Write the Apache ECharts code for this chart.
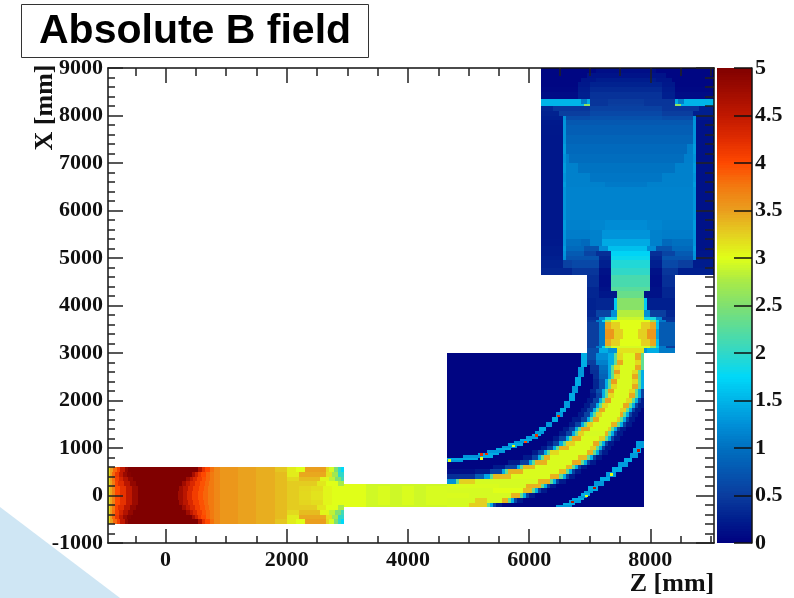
<!DOCTYPE html>
<html><head><meta charset="utf-8">
<style>html,body{margin:0;padding:0;background:#fff}#c{width:794px;height:598px}</style>
<script src="https://cdn.jsdelivr.net/npm/echarts@6/dist/echarts.min.js"></script></head>
<body><div id="c"></div>
<script>
// Each row: [yFrom, yTo, z, B, z, B, ..., z] in mm / tesla. Later rows paint over earlier ones.
const upperRows = [
[8900,9000,6200,.05,7100,.12,8100,.05,9050],
[8800,8900,6200,.05,6950,.16,8250,.05,9050],
[8700,8800,6200,.05,6850,.18,7100,.23,8100,.18,8350,.05,9050],
[8600,8700,6200,.05,6800,.2,7000,.28,8200,.2,8400,.05,9050],
[8500,8600,6200,.07,6800,.23,7000,.35,8200,.23,8400,.07,9050],
[8350,8500,6200,.1,6800,.26,7000,.42,8200,.26,8400,.1,9050],
[8250,8350,6200,1.5,6850,1.1,6950,1.45,7000,.44,7300,.49,7900,.44,8400,1.45,8450,1.1,8550,1.5,9050],
[8200,8250,6200,1.5,6900,2.6,7000,.44,7300,.52,7900,.44,8400,2.6,8500,1.5,9050],
[8100,8200,6200,.32,6400,.45,7000,.55,8200,.45,8800,.26,9050],
[8000,8100,6200,.28,6500,.52,7000,.62,8200,.52,8700,.26,9050],
[7900,8000,6200,.26,6550,1.25,6600,.65,7000,.7,8200,.65,8700,1.25,8750,.19,9050],
[7800,7900,6200,.21,6550,1.28,6600,.77,8700,1.28,8750,.15,9050],
[7600,7800,6200,.2,6550,1.28,6600,.83,8700,1.28,8750,.15,9050],
[7400,7600,6200,.19,6550,1.28,6600,.88,8700,1.28,8750,.15,9050],
[7200,7400,6200,.19,6550,1.33,6600,.93,8600,1.1,8700,1.33,8750,.15,9050],
[7000,7200,6200,.19,6550,1.28,6600,1.12,6650,.97,8550,1.12,8700,1.28,8750,.15,9050],
[6800,7000,6200,.19,6550,1.33,6600,1.13,6800,1.02,8400,1.13,8700,1.33,8750,.15,9050],
[6600,6800,6200,.19,6550,1.28,6600,1.13,7000,1.05,8200,1.13,8700,1.28,8750,.15,9050],
[6500,6600,6200,.19,6550,1.33,6600,1.13,7250,1.08,7950,1.13,8700,1.33,8750,.15,9050],
[5800,6500,6200,.19,6550,1.28,6600,1.15,8700,1.28,8750,.15,9050],
[5600,5800,6200,.19,6550,1.33,6600,1.13,7000,1.17,7250,1.22,7950,1.17,8200,1.13,8700,1.33,8750,.15,9050],
[5400,5600,6200,.2,6550,1.28,6600,1.1,7000,1.13,7200,1.28,8000,1.13,8200,1.1,8700,1.28,8750,.16,9050],
[5250,5400,6200,.21,6550,1.28,6600,1.0,6850,.93,7000,1.13,7200,1.43,8000,1.13,8200,.93,8350,1.0,8700,1.28,8750,.16,9050],
[5150,5250,6200,.23,6550,1.33,6600,.93,6900,.72,7150,1.22,7300,1.58,7950,1.22,8100,.72,8350,.93,8700,1.33,8750,.16,9050],
[5050,5150,6200,.23,6550,1.28,6600,.8,6900,.58,7100,.39,7350,1.72,8000,.39,8200,.58,8400,.8,8700,1.28,8750,.18,9050],
[4950,5050,6200,.26,6550,1.25,6600,.72,7150,.32,7350,1.8,8000,.32,8200,.72,8700,1.25,8750,.19,9050],
[4800,4950,6200,.28,6550,.55,6700,.62,7150,.26,7350,1.92,8000,.26,8200,.62,8450,.52,8700,.23,9050],
[4650,4800,6200,.32,6700,.45,7150,.15,7350,2.0,8000,.15,8200,.45,8450,.26,9050]
];
const towerRows = [
[4400,4650,6950,.39,7150,.12,7350,2.15,8000,.12,8200,.39,8400],
[4300,4400,6950,.32,7150,.15,7350,2.25,8000,.15,8200,.32,8400],
[4150,4300,6950,.32,7150,.19,7450,2.35,7900,.15,8200,.32,8400],
[3900,4150,6950,.28,7100,.32,7400,1.65,7450,2.55,7900,1.65,7950,.26,8400],
[3750,3900,6950,.32,7100,.58,7350,1.25,7450,2.8,7900,1.25,8000,.52,8250,.32,8400],
[3700,3750,6950,.39,7150,1.17,7250,1.88,7450,2.9,7900,1.88,8100,1.17,8200,.39,8400],
[3650,3700,6950,.45,7100,1.08,7200,1.72,7250,2.6,7350,3.0,8000,2.6,8100,1.72,8150,1.08,8250,.45,8400],
[3500,3650,6950,.52,7150,1.08,7250,3.45,7350,3.25,7500,3.0,7850,3.25,8000,3.45,8100,1.58,8150,.8,8400],
[3300,3500,6950,.52,7150,1.08,7250,3.55,7400,3.25,7550,3.0,7800,3.25,7950,3.55,8100,1.38,8150,.8,8400],
[3150,3300,6950,.52,7150,1.08,7250,3.45,7350,3.25,7500,3.0,7850,3.25,8000,3.45,8100,1.58,8150,.8,8400],
[3100,3150,6950,.52,7100,1.08,7200,1.72,7250,2.6,7350,2.95,8000,2.6,8100,1.72,8150,1.08,8250,.52,8400],
[3000,3100,6950,.65,7150,1.45,7300,1.25,7450,3.15,7900,1.25,7950,1.45,8150,1.08,8400]
];
const lowerBoxRows = [
[-250,3000,4650,.04,7900]
];
const pipeRows = [ // upper half of the wide pipe, y >= 0; the lower half mirrors it
[0,100,-950,3.2,-920,3.45,-880,3.7,-840,4.0,-750,4.2,-650,4.5,-550,4.8,-450,5,210,4.75,280,4.55,350,4.3,430,4.1,530,3.95,620,3.85,700,3.75,800,3.65,900,3.55,1200,3.48,1500,3.42,1800,3.35,2000,3.27,2200,3.2,2400,3.15,2600,3.05,2750,3.0,2950],
[100,200,-950,3.2,-920,3.45,-880,3.7,-840,4.0,-760,4.2,-660,4.5,-560,4.8,-460,5,225,4.75,295,4.55,365,4.3,445,4.1,545,3.95,630,3.85,700,3.75,800,3.65,900,3.55,1200,3.48,1500,3.42,1800,3.35,2000,3.27,2200,3.22,2400,3.18,2600,3.05,2750,3.0,2950],
[200,300,-950,3.2,-920,3.47,-880,3.75,-840,4.05,-780,4.25,-690,4.55,-590,4.85,-490,5,270,4.75,340,4.5,410,4.3,480,4.1,570,3.95,650,3.85,720,3.75,800,3.65,900,3.55,1200,3.48,1500,3.42,1800,3.35,2000,3.27,2200,3.27,2500,3.12,2650,3.0,2850,2.75,2950],
[300,400,-950,3.2,-920,3.5,-880,3.8,-840,4.1,-770,4.35,-700,4.6,-620,4.85,-530,5,340,4.75,400,4.5,460,4.3,520,4.1,600,3.95,670,3.85,730,3.75,800,3.65,900,3.55,1200,3.48,1500,3.42,1800,3.35,2000,3.2,2200,3.35,2550,3.05,2700,2.85,2800,2.5,2900,2.1,2950],
[400,500,-950,3.2,-920,3.5,-880,3.85,-830,4.15,-770,4.5,-700,4.8,-630,4.95,-570,5,430,4.7,490,4.4,530,4.15,590,4.0,670,3.85,730,3.75,800,3.65,900,3.55,1200,3.48,1500,3.42,1800,3.35,2000,3.1,2200,3.45,2650,3.15,2750,2.7,2850,2.0,2950],
[500,600,-950,3.2,-920,3.5,-860,3.85,-807,4.1,-752,4.5,-670,4.85,-615,5,530,4.6,595,4.2,650,4.0,733,3.8,800,3.65,900,3.55,1200,3.48,1500,3.42,1800,3.3,2000,3.1,2150,3.0,2300,3.5,2650,3.2,2700,2.95,2780,2.5,2850,2.0,2900,1.75,2950]
];
const narrowPipeRows = [
[-250,-200,2950,3.0,3300,2.92,4650],
[-200,200,2950,3.0,3300,2.93,3500,2.97,3700,2.92,3900,2.97,4100,2.92,4300,2.96,4650],
[200,250,2950,3.0,3300,2.92,4650]
];
const beamRows = [
[-250,-150,4650,2.95,5000,3.25,5300,2.3,5350,1.4,5400,.55,5450,.22,5550],
[-150,-50,4650,2.95,5100,3.25,5300,2.95,5550,3.4,5650,2.3,5700,1.45,5750,.55,5800,.22,5900],
[-50,50,4650,2.97,5000,2.95,5700,3.4,5850,2.3,5900,1.45,5950,.55,6000,.22,6100],
[50,150,4650,2.95,5400,3.0,5900,3.35,6050,2.3,6100,1.45,6150,.55,6200,.22,6300],
[150,250,4650,2.97,5500,2.95,5950,3.4,6200,2.3,6250,1.45,6300,.55,6350,.22,6450],
[250,350,4650,1.25,4800,2.3,4850,3.25,5100,2.95,6150,3.4,6350,2.3,6400,1.45,6450,.55,6500,.22,6600],
[350,450,4650,.39,5100,.8,5250,1.4,5350,2.3,5400,3.35,5700,2.97,6350,3.4,6500,2.3,6550,1.45,6600,.55,6650,.22,6750],
[450,550,4650,.12,5100,.22,5350,.55,5550,1.45,5600,2.3,5650,3.4,5900,2.97,6500,3.35,6600,2.3,6650,1.45,6700,.55,6750,.22,6850],
[550,650,5400,.22,5600,.55,5800,1.45,5850,2.3,5900,3.35,6100,2.97,6600,3.35,6700,2.3,6750,1.45,6800,.55,6850,.22,6950],
[650,750,5650,.22,5850,.55,6000,1.45,6050,2.3,6100,3.4,6300,2.97,6700,3.45,6850,2.3,6900,1.45,6950,.55,7000,.22,7100],
[750,850,5900,.22,6050,.55,6150,1.45,6200,2.3,6250,3.4,6350,2.97,6800,3.35,6950,2.3,7000,1.45,7050,.55,7100,.22,7200],
[850,950,6050,.22,6150,.55,6250,1.45,6300,2.3,6350,3.2,6500,2.97,6950,3.4,7050,2.3,7100,1.45,7150,.55,7200,.22,7300],
[950,1050,6200,.22,6300,.55,6400,1.45,6450,2.3,6500,3.4,6650,2.97,7000,3.25,7100,2.3,7150,1.45,7200,.55,7250,.22,7350],
[1050,1150,6300,.22,6400,.55,6500,1.45,6550,2.3,6600,3.25,6750,2.97,7050,3.45,7150,2.3,7200,1.45,7250,.55,7300,.22,7400],
[1150,1250,6400,.22,6500,.55,6600,1.45,6650,2.3,6700,3.45,6850,2.97,7150,3.25,7250,2.3,7300,1.45,7350,.55,7400,.22,7500],
[1250,1350,6500,.22,6600,.55,6700,1.45,6750,2.3,6800,3.25,6900,2.95,7250,3.4,7300,2.3,7350,1.45,7400,.55,7450,.22,7550],
[1350,1450,6550,.22,6650,.55,6750,1.45,6800,2.3,6850,3.45,7000,2.97,7300,3.25,7350,2.3,7400,1.45,7450,.55,7500,.22,7600],
[1450,1550,6650,.22,6750,.55,6850,1.45,6900,2.3,6950,3.25,7050,2.97,7350,3.4,7450,2.3,7500,1.45,7550,.55,7600,.22,7700],
[1550,1650,6700,.22,6850,.55,6950,1.45,7000,2.3,7050,3.45,7150,2.97,7450,3.25,7500,2.3,7550,1.45,7600,.55,7650,.22,7750],
[1650,1750,6800,.22,6900,.55,7000,1.45,7050,2.3,7100,3.25,7200,2.97,7500,3.45,7550,2.3,7600,1.45,7650,.55,7700,.22,7800],
[1750,1850,6850,.22,6950,.55,7050,1.45,7100,2.3,7150,3.45,7250,2.97,7500,3.25,7600,2.3,7650,1.45,7700,.55,7750,.22,7850],
[1850,1950,6900,.22,7000,.55,7100,1.45,7150,2.3,7200,3.2,7300,2.97,7550,3.45,7650,2.3,7700,1.45,7750,.55,7800,.22,7900],
[1950,2050,6950,.22,7050,.55,7150,1.45,7200,2.3,7250,3.5,7350,2.97,7600,3.2,7700,2.3,7750,1.45,7800,.55,7850,.22,7900],
[2050,2150,7000,.22,7100,.55,7200,1.45,7250,2.3,7300,3.2,7400,2.97,7650,3.45,7750,2.3,7800,1.45,7850,.55,7900],
[2150,2250,7000,.32,7100,.7,7200,1.45,7250,2.3,7300,3.5,7400,2.97,7650,3.2,7750,2.3,7800,1.45,7850,.55,7900],
[2250,2350,7050,.32,7150,.7,7250,1.45,7300,2.3,7350,3.2,7450,2.97,7700,3.45,7800,2.3,7850,1.45,7900],
[2350,2450,7050,.32,7150,.7,7250,1.45,7300,2.3,7350,3.5,7450,2.97,7700,3.2,7800,2.3,7850,1.45,7900],
[2450,2550,7050,.39,7150,.87,7300,1.45,7350,2.3,7400,3.2,7500,2.97,7700,3.45,7800,2.3,7850,1.45,7900],
[2550,2650,7000,.39,7150,.93,7300,1.45,7350,2.3,7400,3.5,7500,2.97,7700,3.2,7800,2.3,7850,1.45,7900],
[2650,2750,7000,.45,7150,1.0,7300,1.45,7350,2.3,7400,3.2,7500,2.97,7750,3.45,7850,2.3,7900],
[2750,2850,6950,.52,7100,1.13,7300,1.45,7400,2.3,7450,3.45,7550,2.97,7750,3.2,7850,2.3,7900],
[2850,3000,6950,.65,7100,1.22,7300,1.45,7400,2.3,7450,3.2,7550,2.97,7750,3.45,7850,2.3,7900]
];
const innerArcRows = [
[700,750,4650,1.3,4900],[750,800,4650,1.43,5150],[800,850,4900,1.3,5200,1.45,5400],[850,900,5150,1.43,5500],
[900,950,5300,1.3,5600],[950,1000,5450,1.45,5700],[1000,1050,5550,1.3,5800],[1050,1100,5650,1.43,5900],
[1100,1150,5750,1.3,6000],[1150,1200,5850,1.45,6050],[1200,1250,5950,1.35,6150],[1250,1300,6050,1.5,6200],
[1300,1350,6100,1.33,6250],[1350,1450,6170,1.45,6280],[1450,1550,6270,1.3,6380],[1550,1650,6370,1.45,6480],
[1650,1750,6450,1.33,6550],[1750,1850,6510,1.45,6600],[1850,2000,6570,1.33,6680],[2000,2150,6650,1.43,6750],
[2150,2300,6710,1.3,6800],[2300,2500,6760,1.45,6850],[2500,2700,6810,1.3,6900],[2700,3000,6860,1.45,6950]
];
const outerArcRows = [
[-250,-200,6450,1.3,6700],[-200,-150,6550,1.45,6750],[-150,-100,6650,1.33,6850],[-100,-50,6700,1.45,6900],
[-50,0,6800,1.3,6950],[0,50,6850,1.45,7000],[50,100,6900,1.33,7050],[100,200,6970,1.43,7130],
[200,300,7070,1.3,7230],[300,400,7170,1.45,7330],[400,500,7270,1.33,7430],[500,600,7370,1.45,7530],
[600,700,7470,1.33,7630],[700,800,7570,1.45,7690],[800,900,7660,1.33,7790],[900,1000,7720,1.45,7840],
[1000,1150,7770,1.33,7890]
];
const speckles = [ // hot cells on the two thin arcs: [z, y, B]
[5215,863,4.2],[5298,877,4.2],[5947,1130,4.0],[6124,1263,4.2],[6480,1669,4.2],[5738,1038,3.0],[5215,779,3.0],[4693,737,3.0],
[7812,947,4.5],[7074,162,4.6],[6711,-141,4.6],[7361,442,3.0],[6949,-15,3.0]
];
const xMajor = [0,2000,4000,6000,8000];
const xMinor = [-500,500,1000,1500,2500,3000,3500,4500,5000,5500,6500,7000,7500,8500,9000];
const yMajor = [-1000,0,1000,2000,3000,4000,5000,6000,7000,8000,9000];
const yMinor = [-800,-600,-400,-200,200,400,600,800,1200,1400,1600,1800,2200,2400,2600,2800,3200,3400,3600,3800,4200,4400,4600,4800,5200,5400,5600,5800,6200,6400,6600,6800,7200,7400,7600,7800,8200,8400,8600,8800];
const palette = ['#000080','#001e8e','#0a3c9e','#0556b0','#0070c0','#0090d8','#00b4e8','#00d8f8','#30d8c8','#58dc9c','#80e070','#a8ea48','#e0ff18','#e4d020','#ea9e1e','#f27a10','#ff4800','#e02c00','#c01800','#a00c00','#800000'];

// Flatten run lists into rectangles [zFrom, zTo, yFrom, yTo, B], keeping the painting order.
const rects=[];
function paint(rows){
  rows.forEach(r=>{ for(let k=2;k+2<r.length;k+=2) rects.push([r[k],r[k+2],r[0],r[1],r[k+1]]); });
}
const mirrored=pipeRows.map(r=>[-r[1],-r[0]].concat(r.slice(2)));
[upperRows,towerRows,lowerBoxRows,pipeRows,mirrored,narrowPipeRows,beamRows,innerArcRows,outerArcRows].forEach(paint);
speckles.forEach(s=>rects.push([s[0]-25,s[0]+25,s[1]-25,s[1]+25,s[2]]));
const barLevels=[];
for(let i=0;i<200;i++) barLevels.push([0,1,i/40,(i+1)/40,(i+.5)/40]);

function renderCell(params,api){
  const a=api.coord([api.value(0),api.value(3)]), b=api.coord([api.value(1),api.value(2)]);
  const x=Math.round(a[0]), y=Math.round(a[1]);
  return {type:'rect',silent:true,shape:{x:x,y:y,width:Math.round(b[0])-x,height:Math.round(b[1])-y},style:{fill:api.visual('color')}};
}

const GRID={left:108,top:68,width:606,height:475,outerBoundsMode:'none'};
const FONT='"Liberation Serif"';
const plain=v=>String(v);
const lab={fontFamily:FONT,fontWeight:'bold',fontSize:22,color:'#111',formatter:plain};
const ln={show:true,onZero:false,lineStyle:{color:'#111',width:1.5}};
const tick=(len,vals)=>({show:true,inside:true,length:len,customValues:vals,lineStyle:{color:'#222',width:1.5}});
const noLab={show:false}, noLine={show:false,onZero:false};
const nameFont={fontFamily:FONT,fontWeight:'bold',fontSize:26,color:'#111'};
const chart=echarts.init(document.getElementById('c'),null,{renderer:'canvas'});
const xv={type:'value',min:-950,max:9050,z:10,splitLine:{show:false}};
const yv={type:'value',min:-1000,max:9000,z:10,splitLine:{show:false}};
chart.setOption({
  animation:false,backgroundColor:'#fff',
  title:{text:'Absolute B field',left:21,top:4,padding:[5,18,4,18],borderColor:'#333',borderWidth:1,backgroundColor:'#fff',
    textStyle:{fontFamily:'"Liberation Sans"',fontWeight:'bold',fontSize:41,lineHeight:45,color:'#000'}},
  graphic:[{type:'polygon',silent:true,z:-10,shape:{points:[[0,507],[120,598],[0,598]]},style:{fill:'#cfe6f4'}}],
  grid:[Object.assign({},GRID),Object.assign({},GRID),{left:717,top:68,width:35,height:475,outerBoundsMode:'none'}],
  visualMap:{type:'continuous',show:false,min:0,max:5,dimension:4,seriesIndex:[0,1],inRange:{color:palette}},
  xAxis:[
    Object.assign({},xv,{gridIndex:0,position:'bottom',axisLine:ln,axisTick:tick(14,xMajor),
      axisLabel:Object.assign({customValues:xMajor,margin:6},lab),
      name:'Z [mm]',nameLocation:'middle',nameGap:28,nameMoveOverlap:false,nameTextStyle:Object.assign({},nameFont,{padding:[0,0,0,522]})}),
    Object.assign({},xv,{gridIndex:0,position:'top',axisLine:ln,axisTick:tick(15,xMajor),axisLabel:noLab}),
    Object.assign({},xv,{gridIndex:1,position:'bottom',axisLine:noLine,axisTick:tick(7,xMinor),axisLabel:noLab}),
    Object.assign({},xv,{gridIndex:1,position:'top',axisLine:noLine,axisTick:tick(8,xMinor),axisLabel:noLab}),
    {type:'value',gridIndex:2,min:0,max:1,show:false}
  ],
  yAxis:[
    Object.assign({},yv,{gridIndex:0,position:'left',axisLine:ln,axisTick:tick(15,yMajor),
      axisLabel:Object.assign({customValues:yMajor,margin:5},lab),
      name:'X [mm]',nameLocation:'middle',nameGap:50,nameMoveOverlap:false,nameTextStyle:Object.assign({},nameFont,{padding:[0,0,0,396]})}),
    Object.assign({},yv,{gridIndex:0,position:'right',axisLine:ln,axisTick:tick(18,yMajor),axisLabel:noLab}),
    Object.assign({},yv,{gridIndex:1,position:'left',axisLine:noLine,axisTick:tick(7,yMinor),axisLabel:noLab}),
    Object.assign({},yv,{gridIndex:1,position:'right',axisLine:noLine,axisTick:tick(9,yMinor),axisLabel:noLab}),
    {type:'value',gridIndex:2,position:'right',min:0,max:5,interval:0.5,z:10,splitLine:{show:false},axisLine:ln,
      axisTick:{show:true,inside:true,length:18,lineStyle:{color:'#111',width:1.5}},axisLabel:Object.assign({margin:3},lab)}
  ],
  series:[
    {type:'custom',name:'Absolute B field',xAxisIndex:0,yAxisIndex:0,coordinateSystem:'cartesian2d',data:rects,renderItem:renderCell,encode:{x:[0,1],y:[2,3]},progressive:0,silent:true,clip:false},
    {type:'custom',name:'Colour scale',xAxisIndex:4,yAxisIndex:4,coordinateSystem:'cartesian2d',data:barLevels,renderItem:renderCell,encode:{x:[0,1],y:[2,3]},progressive:0,silent:true,clip:false}
  ]
});
</script></body></html>
